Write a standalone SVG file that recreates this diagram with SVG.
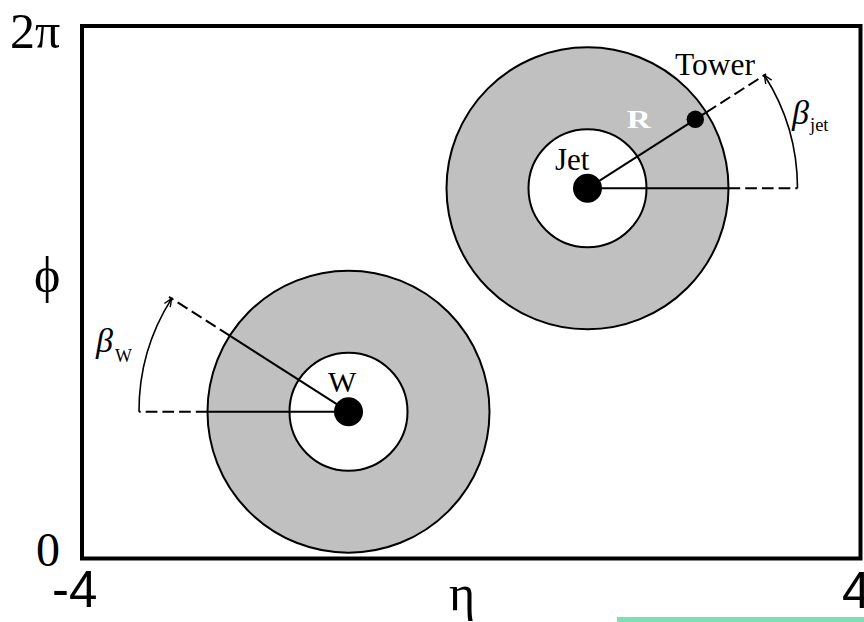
<svg xmlns="http://www.w3.org/2000/svg" width="864" height="622" viewBox="0 0 864 622">
<defs>
<style>
.serif{font-family:"Liberation Serif","Times New Roman",serif;fill:#000}
.sans{font-family:"Liberation Sans",Arial,sans-serif;fill:#000}
.outer{fill:#c0c0c0;stroke:#000;stroke-width:2}
.inner{fill:#fff;stroke:#000;stroke-width:2}
.solid{stroke:#000;stroke-width:2;fill:none}
.dash{stroke:#000;stroke-width:2;fill:none;stroke-dasharray:11.7 5}
.arc{stroke:#000;stroke-width:1.6;fill:none;marker-end:url(#arr)}
</style>
<marker id="arr" markerUnits="userSpaceOnUse" markerWidth="14" markerHeight="12" refX="0" refY="0" viewBox="-10 -6 12 12" orient="auto">
<path d="M-8,-3.5 L0,0 L-8,3.5" fill="none" stroke="#000" stroke-width="1.4"/>
</marker>
</defs>
<rect width="864" height="622" fill="#fff"/>

<g id="frame">
<rect x="82" y="26" width="778.5" height="532.5" fill="none" stroke="#000" stroke-width="4"/>
</g>

<g id="axis-labels">
<text class="serif" x="10" y="48" font-size="50">2π</text>
<text class="serif" x="34" y="292" font-size="50">ϕ</text>
<text class="serif" x="36" y="566" font-size="48">0</text>
<text class="sans" x="52" y="607" font-size="51">-4</text>
<text class="sans" x="842" y="608" font-size="51">4</text>
<text class="serif" x="449" y="610" font-size="50">η</text>
</g>

<g id="jet-region">
<circle class="outer" cx="587.5" cy="188.3" r="141"/>
<circle class="inner" cx="587.5" cy="188.3" r="59"/>
</g>

<g id="w-region">
<circle class="outer" cx="348.5" cy="411.7" r="141"/>
<circle class="inner" cx="348.5" cy="411.7" r="59"/>
</g>

<g id="connectors">
<line class="solid" x1="587.5" y1="188.3" x2="706.3" y2="112.3"/>
<line class="dash" x1="706.3" y1="112.3" x2="766.1" y2="74.1"/>
<line class="solid" x1="587.5" y1="188.3" x2="728.5" y2="188.3"/>
<line class="dash" x1="728.5" y1="188.3" x2="797.5" y2="188.3"/>
<path class="arc" d="M797.5,188.3 A210,210 0 0,0 764.4,75.2"/>
<line class="solid" x1="348.5" y1="411.7" x2="229.7" y2="335.7"/>
<line class="dash" x1="229.7" y1="335.7" x2="169" y2="296.9"/>
<line class="solid" x1="348.5" y1="411.7" x2="207.5" y2="411.7"/>
<line class="dash" x1="207.5" y1="411.7" x2="139" y2="411.7"/>
<path class="arc" d="M139,411.7 A210,210 0 0,1 171.6,298.6"/>
</g>

<g id="jet">
<circle cx="587.5" cy="188.3" r="14.5" fill="#000"/>
<text class="serif" x="555" y="170" font-size="31">Jet</text>
</g>

<g id="w">
<circle cx="348.5" cy="411.7" r="14.5" fill="#000"/>
<text class="serif" x="328" y="391.7" font-size="30">W</text>
</g>

<g id="tower">
<circle cx="695.3" cy="119.3" r="8.7" fill="#000"/>
<text class="serif" x="675" y="75" font-size="31" textLength="80" lengthAdjust="spacingAndGlyphs">Tower</text>
</g>

<g id="r-label">
<text class="serif" x="626.7" y="128.3" font-size="25" font-weight="bold" textLength="24" lengthAdjust="spacingAndGlyphs" style="fill:#fff">R</text>
</g>

<g id="beta-jet">
<text class="serif" x="792" y="123.5" font-size="34" font-style="italic">β</text>
<text class="serif" x="810" y="131" font-size="18.5">jet</text>
</g>

<g id="beta-w">
<text class="serif" x="96" y="352" font-size="34" font-style="italic">β</text>
<text class="serif" x="115" y="361.7" font-size="18">W</text>
</g>

<rect x="617" y="617" width="247" height="5" fill="#7ddfb4"/>
</svg>
